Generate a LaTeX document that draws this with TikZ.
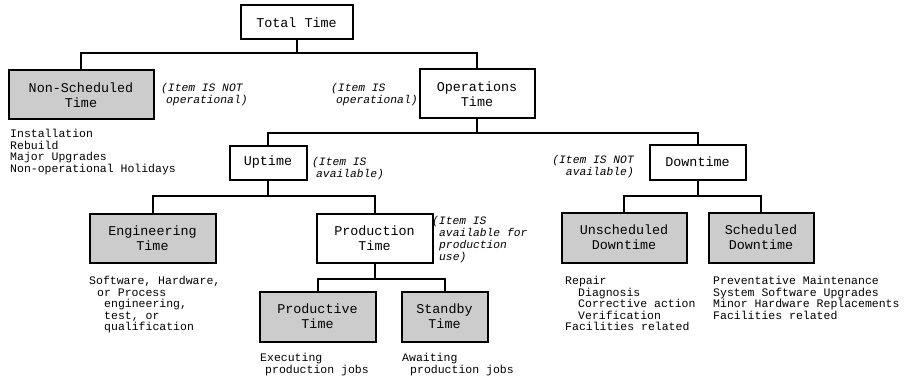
\documentclass[tikz,border=0pt]{standalone}
\usepackage{fontspec}
\setmonofont{Liberation Mono}
\usetikzlibrary{positioning}

\tikzset{
  box/.style={draw, line width=2pt, inner sep=0pt, align=center,
    font=\ttfamily\fontsize{13.4}{15}\selectfont},
  greybox/.style={box, fill=gray!40},
  note/.style={inner sep=0pt, align=left, anchor=north west,
    font=\ttfamily\itshape\fontsize{11.3}{12}\selectfont},
  list/.style={inner sep=0pt, align=left, anchor=north west,
    font=\ttfamily\fontsize{11.5}{11.6}\selectfont},
  link/.style={line width=2pt},
}

\begin{document}
\begin{tikzpicture}[x=1pt,y=-1pt]
  \useasboundingbox (0,0) rectangle (904,377);

  % boxes
  \node[box, minimum width=112pt, minimum height=34pt] (tot) at (296.5,22.5) {Total Time};
  \node[greybox, minimum width=145pt, minimum height=49pt] (ns) at (81,95) {Non-Scheduled\\Time};
  \node[box, minimum width=115pt, minimum height=49pt] (ops) at (477,94) {Operations\\Time};
  \node[box, minimum width=77pt, minimum height=34pt] (up) at (268,162.5) {Uptime};
  \node[box, minimum width=96pt, minimum height=35pt] (dn) at (697.5,162) {Downtime};
  \node[greybox, minimum width=126pt, minimum height=49pt] (eng) at (152.5,238) {Engineering\\Time};
  \node[box, minimum width=116pt, minimum height=49pt] (prod) at (374.5,238) {Production\\Time};
  \node[greybox, minimum width=116pt, minimum height=50pt] (pv) at (317.5,316.5) {Productive\\Time};
  \node[greybox, minimum width=86pt, minimum height=50pt] (sb) at (444.5,316.5) {Standby\\Time};
  \node[greybox, minimum width=125pt, minimum height=50pt] (us) at (624,237.5) {Unscheduled\\Downtime};
  \node[greybox, minimum width=105pt, minimum height=50pt] (sc) at (761,237.5) {Scheduled\\Downtime};

  % tree lines
  \draw[link] (tot.south) -- ++(0,13) coordinate (b1);
  \draw[link] (ns.north) |- (b1) -| (ops.north);
  \draw[link] (ops.south) -- ++(0,13) coordinate (b2);
  \draw[link] (up.north) |- (b2) -| (dn.north);
  \draw[link] (up.south) -- ++(0,15) coordinate (b3);
  \draw[link] (eng.north) |- (b3) -| (prod.north);
  \draw[link] (prod.south) -- ++(0,15) coordinate (b4);
  \draw[link] (pv.north) |- (b4) -| (sb.north);
  \draw[link] (dn.south) -- ++(0,15) coordinate (b5);
  \draw[link] (us.north) |- (b5) -| (sc.north);

  % notes
  \node[note] (n1) at (161,83) {(Item IS NOT\\\hspace*{5pt}operational)};
  \node[note] (n2) at (331,83) {(Item IS\\\hspace*{5pt}operational)};
  \node[note] (n3) at (312,157) {(Item IS\\\hspace*{4pt}available)};
  \node[note, anchor=north east, align=right] (n4) at (634,155) {(Item IS NOT\\available)};
  \node[note] (n5) at (432,216) {(Item IS\\\hspace*{7pt}available for\\\hspace*{7pt}production\\\hspace*{7pt}use)};

  % lists
  \node[list] (l1) at (10,129) {Installation\\Rebuild\\Major Upgrades\\Non-operational Holidays};
  \node[list] (l2) at (89,276) {Software, Hardware,\\\hspace*{8pt}or Process\\\hspace*{15pt}engineering,\\\hspace*{15pt}test, or\\\hspace*{15pt}qualification};
  \node[list] (l3) at (260,353) {Executing\\\hspace*{5pt}production jobs};
  \node[list] (l4) at (402,353) {Awaiting\\\hspace*{8pt}production jobs};
  \node[list] (l5) at (565,276) {Repair\\\hspace*{13pt}Diagnosis\\\hspace*{13pt}Corrective action\\\hspace*{13pt}Verification\\Facilities related};
  \node[list] (l6) at (713,276) {Preventative Maintenance\\System Software Upgrades\\Minor Hardware Replacements\\Facilities related};
\end{tikzpicture}
\end{document}
